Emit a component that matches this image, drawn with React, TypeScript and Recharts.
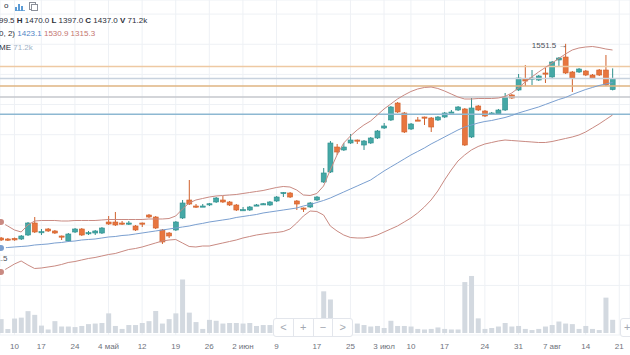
import React from 'react';
import { ComposedChart, Bar, Line, XAxis, YAxis, CartesianGrid, ReferenceLine, ReferenceDot } from 'recharts';

// ---- data (daily candles, index 0..91) ----
const opens = [907.4, 904.0, 906.0, 904.0, 917.3, 957.1, 927.3, 937.2, 930.6, 914.0,
  897.4, 927.3, 937.2, 923.9, 923.9, 923.9, 960.4, 960.4, 957.1, 956.0,
  947.2, 957.1, 983.6, 977.0, 933.9, 923.9, 933.9, 973.7, 1033.4, 1013.5,
  1012.5, 1020.1, 1026.8, 1033.4, 1026.8, 1016.8, 1000.2, 1000.2, 1016.0, 1020.1,
  1016.8, 1030.1, 1056.6, 1056.6, 1030.1, 1006.9, 1010.2, 1033.4, 1093.1, 1126.3,
  1209.2, 1199.3, 1222.5, 1232.4, 1215.8, 1222.5, 1239.1, 1272.2, 1298.8, 1355.1,
  1322.0, 1268.9, 1298.8, 1308.7, 1305.4, 1298.8, 1308.7, 1324.5, 1331.9, 1335.3,
  1242.4, 1345.2, 1328.6, 1321.0, 1318.7, 1331.9, 1381.7, 1398.3, 1434.8, 1437.5,
  1431.4, 1454.7, 1441.4, 1497.8, 1507.7, 1458.0, 1458.0, 1461.3, 1448.0, 1464.6,
  1464.6, 1399.5];
const highs = [910.7, 907.4, 909.0, 917.3, 960.4, 977.0, 937.2, 940.5, 933.9, 915.5,
  923.9, 940.5, 940.5, 930.6, 933.9, 943.8, 980.3, 993.6, 963.7, 963.7,
  950.5, 958.7, 987.0, 980.3, 937.2, 927.3, 963.7, 1033.4, 1099.7, 1020.1,
  1020.1, 1023.5, 1043.3, 1046.7, 1030.1, 1020.1, 1010.2, 1013.5, 1020.1, 1023.5,
  1030.1, 1046.7, 1059.9, 1059.9, 1033.4, 1008.5, 1026.8, 1046.7, 1139.5, 1229.1,
  1219.2, 1222.5, 1252.3, 1234.0, 1232.4, 1242.4, 1265.6, 1288.8, 1345.2, 1358.5,
  1325.3, 1288.8, 1308.7, 1310.0, 1308.7, 1312.0, 1325.3, 1331.9, 1345.2, 1338.6,
  1371.7, 1348.5, 1331.9, 1325.3, 1335.3, 1388.3, 1385.0, 1451.3, 1481.2, 1464.6,
  1448.0, 1471.2, 1494.5, 1507.7, 1551.5, 1461.3, 1471.2, 1464.6, 1451.3, 1467.9,
  1514.4, 1470.0];
const lows = [897.4, 897.4, 898.0, 900.7, 914.0, 923.9, 917.3, 927.3, 920.6, 900.7,
  894.1, 923.9, 914.0, 917.3, 917.3, 920.6, 950.5, 947.2, 950.5, 950.5,
  930.6, 943.8, 973.7, 937.2, 887.5, 907.4, 930.6, 970.4, 1016.8, 1006.9,
  1010.2, 1013.5, 1023.5, 1023.5, 1013.5, 996.9, 998.5, 996.9, 1013.5, 1016.8,
  1013.5, 1026.8, 1043.3, 1040.0, 1000.2, 993.6, 1006.9, 1030.1, 1089.8, 1123.0,
  1182.7, 1195.9, 1219.2, 1219.2, 1199.3, 1219.2, 1235.7, 1268.9, 1295.4, 1322.0,
  1255.6, 1265.6, 1295.4, 1282.2, 1259.0, 1295.4, 1305.4, 1322.0, 1328.6, 1212.5,
  1239.1, 1328.6, 1308.7, 1317.0, 1315.3, 1328.6, 1368.4, 1395.0, 1411.5, 1414.9,
  1428.1, 1421.5, 1438.1, 1474.6, 1451.3, 1391.6, 1454.7, 1444.7, 1434.8, 1444.7,
  1411.5, 1397.0];
const closes = [900.7, 900.7, 901.0, 914.0, 957.1, 927.3, 928.5, 930.6, 923.9, 912.5,
  920.6, 937.2, 917.3, 925.0, 930.6, 940.5, 953.8, 950.5, 956.0, 957.1,
  933.9, 956.0, 977.0, 940.5, 894.1, 914.0, 960.4, 1023.5, 1020.1, 1012.5,
  1013.5, 1021.0, 1040.0, 1026.8, 1016.8, 1000.2, 1001.5, 1010.2, 1017.0, 1021.0,
  1026.8, 1043.3, 1058.3, 1043.3, 1020.1, 1005.5, 1023.5, 1043.3, 1123.0, 1222.5,
  1192.6, 1209.2, 1232.4, 1231.0, 1229.1, 1239.1, 1262.3, 1278.9, 1341.9, 1325.3,
  1259.0, 1285.5, 1297.5, 1307.5, 1275.5, 1308.7, 1322.0, 1325.3, 1341.9, 1215.8,
  1338.6, 1331.9, 1312.0, 1322.0, 1331.9, 1375.1, 1371.7, 1438.1, 1428.1, 1438.1,
  1444.7, 1453.5, 1491.1, 1504.4, 1454.7, 1438.1, 1467.9, 1448.0, 1438.1, 1448.0,
  1414.9, 1437.0];
// volume, thousands
const volumes = [75, 22, 78, 83, 118, 98, 40, 19, 64, 35,
  35, 32, 38, 48, 51, 54, 106, 38, 22, 43,
  43, 54, 64, 119, 51, 75, 106, 289, 110, 59,
  22, 71, 66, 51, 54, 54, 51, 54, 38, 43,
  43, 32, 49, 38, 43, 32, 38, 49, 225, 181,
  45, 40, 42, 51, 43, 35, 38, 27, 66, 38,
  38, 35, 22, 19, 22, 30, 22, 19, 19, 275,
  308, 79, 22, 27, 35, 54, 35, 38, 22, 16,
  22, 35, 43, 62, 51, 48, 22, 38, 22, 16,
  191, 71.2];
// Bollinger Bands (20, 2)
const bbUpper = [960.4, 947.1, 933.9, 927.3, 950.5, 963.7, 965.4, 965.4, 965.4, 963.7,
  963.7, 965.4, 965.4, 965.4, 965.4, 967.1, 968.7, 968.7, 968.7, 968.7,
  968.7, 968.7, 970.4, 970.4, 970.4, 972.0, 980.3, 1003.5, 1023.5, 1033.4,
  1038.4, 1043.3, 1046.7, 1048.3, 1050.0, 1051.6, 1055.0, 1058.3, 1061.6, 1064.9,
  1069.9, 1074.9, 1078.2, 1076.5, 1066.6, 1050.0, 1048.3, 1055.0, 1079.8, 1132.9,
  1182.7, 1222.5, 1245.7, 1265.6, 1282.2, 1295.4, 1315.3, 1335.3, 1351.8, 1368.4,
  1381.7, 1393.3, 1401.6, 1406.6, 1408.2, 1403.3, 1395.0, 1385.0, 1375.1, 1368.4,
  1368.4, 1370.1, 1370.1, 1370.1, 1371.7, 1376.7, 1388.3, 1404.9, 1424.8, 1441.4,
  1458.0, 1472.9, 1487.8, 1502.8, 1517.7, 1530.9, 1537.6, 1540.9, 1542.6, 1539.2,
  1534.3, 1530.9];
const bbMiddle = [874.2, 875.8, 877.5, 879.2, 880.8, 884.1, 885.8, 887.5, 890.8, 892.4,
  895.7, 897.4, 900.7, 902.4, 904.0, 907.4, 910.7, 912.3, 915.6, 917.3,
  920.6, 923.9, 927.3, 930.6, 933.9, 937.2, 940.5, 943.8, 947.1, 952.1,
  955.8, 960.4, 963.7, 967.1, 970.4, 975.4, 978.7, 982.0, 985.3, 990.3,
  993.6, 996.9, 1000.2, 1003.5, 1006.9, 1013.5, 1018.5, 1025.1, 1031.8, 1040.0,
  1050.0, 1059.9, 1069.9, 1079.8, 1089.8, 1099.7, 1114.7, 1129.6, 1142.9, 1156.1,
  1169.4, 1182.7, 1194.3, 1205.9, 1219.2, 1230.7, 1242.4, 1254.0, 1265.6, 1275.5,
  1282.2, 1288.8, 1293.8, 1297.1, 1302.1, 1307.0, 1313.7, 1322.0, 1328.6, 1335.3,
  1341.9, 1350.2, 1358.5, 1366.8, 1373.4, 1383.3, 1391.6, 1399.9, 1406.6, 1413.2,
  1418.2, 1423.1];
const bbLower = [794.6, 807.8, 821.1, 831.1, 817.8, 806.2, 807.8, 811.2, 814.5, 819.5,
  826.1, 829.4, 834.4, 839.4, 842.7, 847.6, 852.6, 855.9, 862.6, 869.2,
  872.5, 877.5, 884.1, 890.8, 897.4, 900.7, 902.4, 890.8, 879.2, 877.5,
  880.8, 880.8, 885.8, 890.8, 895.7, 900.7, 907.4, 912.3, 917.3, 920.6,
  923.9, 925.6, 928.9, 937.2, 957.1, 980.3, 996.9, 995.2, 983.6, 947.2,
  930.6, 917.3, 909.0, 907.4, 907.4, 910.7, 917.3, 927.3, 937.2, 947.2,
  960.4, 973.7, 990.3, 1010.2, 1033.4, 1063.3, 1099.7, 1132.9, 1162.8, 1182.7,
  1199.3, 1210.9, 1219.2, 1224.1, 1229.1, 1232.4, 1230.7, 1229.1, 1227.4, 1225.8,
  1224.1, 1224.1, 1227.4, 1232.4, 1237.4, 1242.4, 1249.0, 1259.0, 1272.2, 1285.5,
  1300.4, 1315.3];

// time axis ticks: candle index and label
const tickIndex = [2, 6, 11, 16, 21, 26, 31, 36, 41, 47, 52, 57, 61, 66, 72, 77, 82, 87, 92];
const tickLabels = ['10', '17', '24', '4 май', '12', '19', '26', '2 июн', '9', '17', '25', '3 июл', '10', '17', '24', '31', '7 авг', '14', '21'];

// horizontal levels drawn on the chart
const levelPrices = [1476.2, 1436.4, 1411.5, 1375.1, 1317.7];
const levelColors = ['#eec9a3', '#c8d2de', '#dfb582', '#c4c7cd', '#8db8d2'];

// price grid lines
const priceGrid = [750, 850, 950, 1050, 1150, 1250, 1350, 1450, 1550, 1650];
const offscreenLow = 841.5;

const UP = '#45a8a6';
const UP_DARK = '#2f8f8d';
const DOWN = '#e8763f';
const DOWN_DARK = '#d0612c';
const BAND = '#c98a82';
const MID = '#7a9fd0';
const VOL = '#d3d9e0';
const FONT = '"Liberation Sans", Arial, sans-serif';

const data = opens.map((o, i) => ({
  i,
  o,
  h: highs[i],
  l: lows[i],
  c: closes[i],
  range: [lows[i], highs[i]],
  v: volumes[i],
  up: bbUpper[i],
  mid: bbMiddle[i],
  lo: bbLower[i],
}));

const hiIdx = highs.indexOf(Math.max(...highs));

function CandleShape(props: any) {
  const { x, y, width, height, payload } = props;
  if (!payload || x == null || y == null) return null;
  const top = Math.min(y, y + height);
  const bot = Math.max(y, y + height);
  const span = payload.h - payload.l;
  const toY = (p: number) => (span === 0 ? top : top + ((payload.h - p) / span) * (bot - top));
  const cx = x + width / 2;
  const isUp = payload.c >= payload.o;
  const fill = isUp ? UP : DOWN;
  const edge = isUp ? UP_DARK : DOWN_DARK;
  const yo = toY(payload.o);
  const yc = toY(payload.c);
  const bTop = Math.min(yo, yc);
  const bH = Math.max(1.2, Math.abs(yc - yo));
  return (
    <g>
      <line x1={cx} x2={cx} y1={top} y2={bot} stroke={edge} strokeWidth={1} />
      <rect x={cx - 2.5} y={bTop} width={5} height={bH} fill={fill} stroke={edge} strokeWidth={0.6} />
    </g>
  );
}

function TimeTick(props: any) {
  const { x, y, payload } = props;
  const k = tickIndex.indexOf(payload?.value);
  return (
    <text x={x} y={y} dy={14} textAnchor="middle" fontSize={8} fill="#6e727c" fontFamily={FONT}>
      {k >= 0 ? tickLabels[k] : ''}
    </text>
  );
}

function HighLabel(props: any) {
  const vb = props.viewBox || {};
  const x = (vb.x ?? 0) + (vb.width ?? 0) / 2;
  const y = (vb.y ?? 0) + (vb.height ?? 0) / 2;
  return (
    <text x={x + 1} y={y + 4} textAnchor="end" fontSize={8} fill="#4d515a" fontFamily={FONT}>
      {`${highs[hiIdx].toFixed(1)} →`}
    </text>
  );
}

function LowLabel(props: any) {
  const vb = props.viewBox || {};
  const x = (vb.x ?? 0) + (vb.width ?? 0) / 2;
  const y = (vb.y ?? 0) + (vb.height ?? 0) / 2;
  return (
    <text x={x + 3} y={y + 3} textAnchor="start" fontSize={8} fill="#4d515a" fontFamily={FONT}>
      {`← ${offscreenLow.toFixed(1)}`}
    </text>
  );
}

const xDomain: [number, number] = [-0.149, 93.6];

export default function App() {
  const last = opens.length - 1;
  return (
    <div style={{ position: 'fixed', left: 0, top: 0, width: 630, height: 355, overflow: 'hidden', background: '#ffffff' }}>
      <ComposedChart width={630} height={355} data={data} margin={{ top: 0, right: 0, bottom: 0, left: 0 }}>
        <CartesianGrid xAxisId="x" yAxisId="p" stroke="#eef1f5" strokeWidth={1} />
        <XAxis
          xAxisId="x"
          type="number"
          dataKey="i"
          domain={xDomain}
          allowDataOverflow
          ticks={tickIndex}
          interval={0}
          axisLine={false}
          tickLine={false}
          tickSize={0}
          tickMargin={0}
          height={20}
          tick={<TimeTick />}
        />
        <XAxis xAxisId="vx" type="number" dataKey="i" domain={xDomain} allowDataOverflow hide height={0} />
        <YAxis yAxisId="p" type="number" domain={[585.6, 1696.8]} allowDataOverflow hide ticks={priceGrid} width={0} />
        <YAxis yAxisId="v" type="number" domain={[-10.8, 1798.2]} allowDataOverflow hide width={0} />
        <Bar xAxisId="vx" yAxisId="v" dataKey="v" fill={VOL} barSize={5} isAnimationActive={false} />
        {levelPrices.map((p, k) => (
          <ReferenceLine key={k} xAxisId="x" yAxisId="p" y={p} stroke={levelColors[k]} strokeWidth={1.5} />
        ))}
        <Line xAxisId="x" yAxisId="p" type="linear" dataKey="up" stroke={BAND} strokeWidth={1} dot={false} isAnimationActive={false} />
        <Line xAxisId="x" yAxisId="p" type="linear" dataKey="lo" stroke={BAND} strokeWidth={1} dot={false} isAnimationActive={false} />
        <Line xAxisId="x" yAxisId="p" type="linear" dataKey="mid" stroke={MID} strokeWidth={1} dot={false} isAnimationActive={false} />
        <Bar xAxisId="x" yAxisId="p" dataKey="range" barSize={5} shape={<CandleShape />} isAnimationActive={false} />
        <ReferenceDot xAxisId="x" yAxisId="p" x={hiIdx} y={highs[hiIdx]} r={1} fill="none" stroke="none" ifOverflow="visible" label={<HighLabel />} />
        <ReferenceDot xAxisId="x" yAxisId="p" x={-4} y={offscreenLow} r={1} fill="none" stroke="none" ifOverflow="visible" label={<LowLabel />} />
      </ComposedChart>

      {/* legend header */}
      <div style={{ position: 'absolute', left: 0, top: 0, fontFamily: FONT, fontSize: 8, color: '#2a2e39', lineHeight: '10px', whiteSpace: 'pre' }}>
        <div style={{ position: 'absolute', left: 4, top: 1, display: 'flex', alignItems: 'center' }}>
          <span>о</span>
          <svg width={10} height={9} style={{ marginLeft: 7 }}>
            <rect x={0} y={5} width={2} height={4} fill="#5b9bd5" />
            <rect x={3} y={2} width={2} height={7} fill="#5b9bd5" />
            <rect x={6} y={4} width={2} height={5} fill="#5b9bd5" />
            <rect x={0} y={8.2} width={10} height={0.8} fill="#5b9bd5" />
          </svg>
          <svg width={9} height={9} style={{ marginLeft: 4 }}>
            <rect x={0.5} y={0.5} width={6} height={7} fill="none" stroke="#8a8f99" />
            <rect x={2.5} y={2.5} width={6} height={6} fill="#fff" stroke="#8a8f99" />
          </svg>
        </div>
        <div style={{ position: 'absolute', left: -1, top: 16 }}>
          <span>99.5 </span><b>H</b><span>{` ${highs[last].toFixed(1)} `}</span><b>L</b><span>{` ${lows[last].toFixed(1)} `}</span>
          <b>C</b><span>{` ${closes[last].toFixed(1)} `}</span><b>V</b><span>{` ${volumes[last].toFixed(1)}k`}</span>
        </div>
        <div style={{ position: 'absolute', left: -1, top: 29 }}>
          <span>0, 2) </span>
          <span style={{ color: '#4f86c6' }}>{bbMiddle[last].toFixed(1)}</span>
          <span style={{ color: '#c4756f' }}>{` ${bbUpper[last].toFixed(1)} ${bbLower[last].toFixed(1)}`}</span>
        </div>
        <div style={{ position: 'absolute', left: -1, top: 43 }}>
          <span>ME </span>
          <span style={{ color: '#9fb3c8' }}>{`${volumes[last].toFixed(1)}k`}</span>
        </div>
      </div>

      {/* navigation buttons */}
      <div style={{ position: 'absolute', left: 273, top: 318, width: 80, height: 19, display: 'flex', border: '1px solid #e3e6ec', borderRadius: 3, background: '#fff', boxSizing: 'border-box' }}>
        {['<', '+', '−', '>'].map((s, k) => (
          <div key={k} style={{ flex: 1, borderLeft: k ? '1px solid #e3e6ec' : 'none', color: '#a3a8b1', fontSize: 11, lineHeight: '17px', textAlign: 'center', fontFamily: FONT }}>{s}</div>
        ))}
      </div>
      <div style={{ position: 'absolute', left: 620, top: 318, width: 30, height: 19, border: '1px solid #e3e6ec', borderRadius: 3, background: '#fff', boxSizing: 'border-box', color: '#a3a8b1', fontSize: 11, lineHeight: '17px', paddingLeft: 3, fontFamily: FONT }}>+</div>
    </div>
  );
}
